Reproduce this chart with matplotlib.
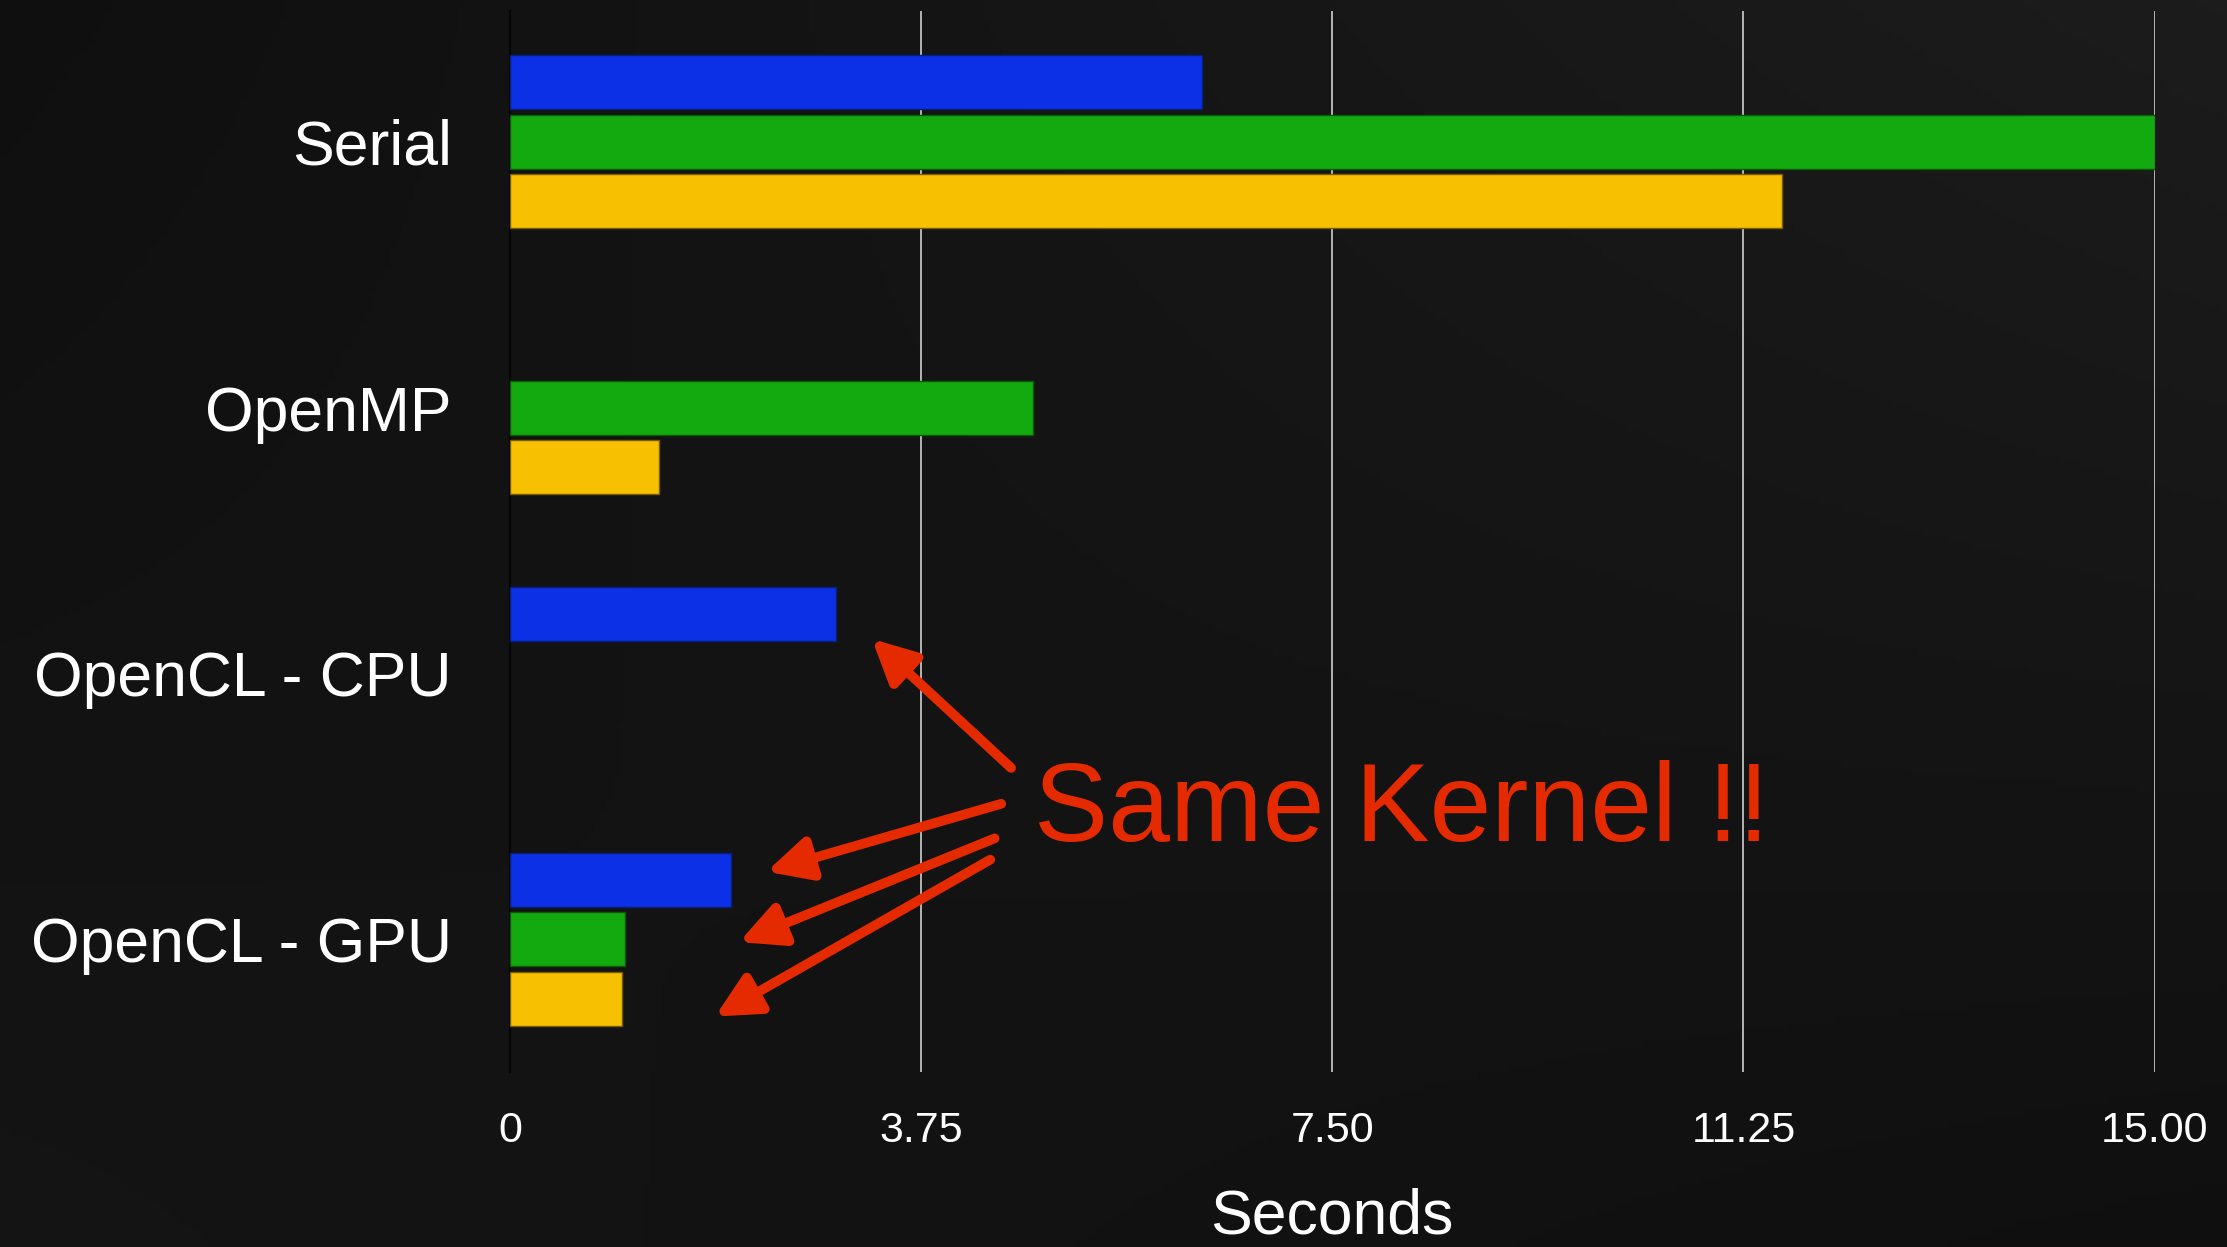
import matplotlib.pyplot as plt
import numpy as np

# Data (seconds)
categories = ['Serial', 'OpenMP', 'OpenCL - CPU', 'OpenCL - GPU']
blue_vals = [6.31, np.nan, 2.97, 2.02]
green_vals = [15.0, 4.77, np.nan, 1.05]
yellow_vals = [11.6, 1.36, np.nan, 1.02]
xticks = [0, 3.75, 7.5, 11.25, 15.0]
xtick_labels = ['0', '3.75', '7.50', '11.25', '15.00']

plt.rcParams['font.family'] = ['Liberation Sans', 'DejaVu Sans']

fig = plt.figure(figsize=(22.27, 12.47), dpi=100)
fig.patch.set_facecolor('#0e0e0e')

# subtle background shading (dark, slightly lighter to the upper right)
bg = fig.add_axes([0, 0, 1, 1], zorder=-10)
yy, xx = np.mgrid[0:1:200j, 0:1:360j]
shade = 0.06 + 0.05 * xx * (1 - yy) + 0.02 * yy * (1 - xx)
bg.imshow(shade, cmap='gray', vmin=0, vmax=1, aspect='auto', extent=[0, 1, 0, 1])
bg.axis('off')

ax = fig.add_axes([0.229, 0.14, 0.7385, 0.851])
ax.set_facecolor('none')

y = np.arange(len(categories))
h = 0.203
off = 0.225
ax.barh(y - off, blue_vals, height=h, color='#0b30e6', edgecolor='#06207a', linewidth=1, zorder=3)
ax.barh(y, green_vals, height=h, color='#13aa0f', edgecolor='#0a5a08', linewidth=1, zorder=3)
ax.barh(y + off, yellow_vals, height=h, color='#f7c000', edgecolor='#7a5c00', linewidth=1, zorder=3)

ax.set_xlim(0, 15.0)
ax.set_ylim(3.5, -0.49)

ax.set_xticks(xticks)
ax.set_xticklabels(xtick_labels, color='white', fontsize=31)
ax.set_yticks(y)
ax.set_yticklabels(categories, color='white', fontsize=45)
ax.tick_params(axis='both', length=0)
ax.tick_params(axis='x', pad=28)
ax.tick_params(axis='y', pad=42)

ax.xaxis.grid(True, color='#cfcfcf', linewidth=1.2, zorder=1)
for s in ['top', 'right', 'bottom']:
    ax.spines[s].set_visible(False)
ax.spines['left'].set_color('#050505')
ax.spines['left'].set_linewidth(1.5)

ax.set_xlabel('Seconds', color='white', fontsize=45, labelpad=26)

# annotation
red = '#e52a00'
ax.text(4.78, 2.52, 'Same Kernel !!', color=red, fontsize=80, va='center', ha='left', zorder=5)
arrows = [((4.57, 2.355), (3.30, 1.87)),
          ((4.48, 2.49), (2.34, 2.745)),
          ((4.42, 2.62), (2.09, 3.01)),
          ((4.38, 2.70), (1.87, 3.29))]
for start, end in arrows:
    ax.annotate('', xy=end, xytext=start,
                arrowprops=dict(arrowstyle='-|>,head_length=2.6,head_width=1.3',
                                color=red, lw=7, shrinkA=0, shrinkB=0),
                zorder=5)

fig.savefig('out.png', dpi=100, facecolor=fig.get_facecolor())
